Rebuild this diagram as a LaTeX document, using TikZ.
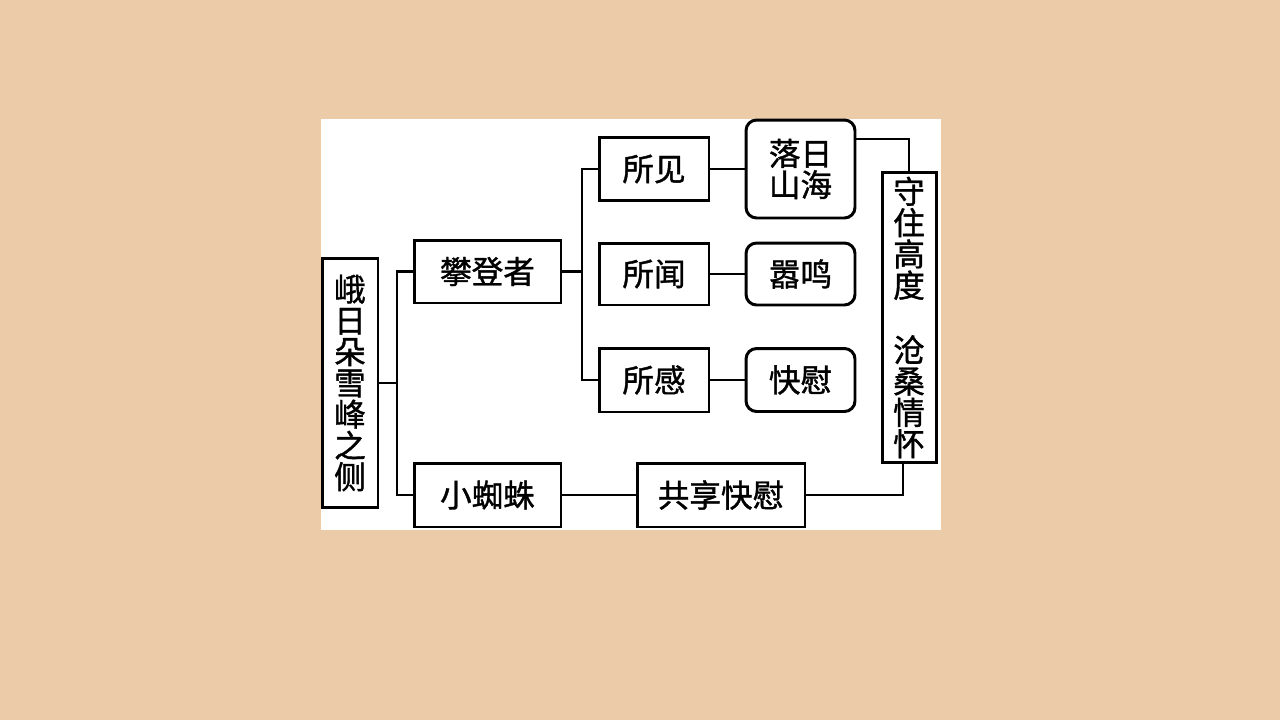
\documentclass[tikz,border=0pt]{standalone}
\usepackage{fontspec}
\newfontfamily\cjk[FakeBold=1.2]{Noto Sans CJK SC}
\usepackage{tikz}
\definecolor{paper}{RGB}{235,203,168}

\begin{document}
\begin{tikzpicture}[x=0.02cm, y=-0.02cm,
    box/.style={draw, line width=1.7pt, fill=white, inner sep=2pt, align=center,
        font=\cjk\fontsize{18pt}{17.8pt}\selectfont},
    rbox/.style={box, rounded corners=6pt},
    link/.style={line width=1.6pt}]
            \useasboundingbox (0,0) rectangle (1280,720);
            \fill[paper] (0,0) rectangle (1280,720);
            \fill[white] (321,119) rectangle (941,530);
            % left column
            \node[box, minimum width=1.12cm, minimum height=5cm] (side) at (350,383) {峨\\日\\朵\\雪\\峰\\之\\侧};
            \node[box, minimum width=2.94cm, minimum height=1.26cm] (climber) at (487.5,271.5) {攀登者};
            \node[box, minimum width=2.94cm, minimum height=1.28cm] (spider) at (487.5,495) {小蜘蛛};
            % what the climber meets
            \node[box, minimum width=2.2cm, minimum height=1.26cm] (see) at (654,169) {所见};
            \node[box, minimum width=2.2cm, minimum height=1.24cm] (hear) at (654,274) {所闻};
            \node[box, minimum width=2.2cm, minimum height=1.28cm] (feel) at (654,380) {所感};
            \node[rbox, minimum width=2.18cm, minimum height=1.96cm] (sunset) at (800.5,169) {落日\\山海};
            \node[rbox, minimum width=2.18cm, minimum height=1.24cm] (noise) at (800.5,274) {嚣鸣};
            \node[rbox, minimum width=2.18cm, minimum height=1.26cm] (joy) at (800.5,380) {快慰};
            \node[box, minimum width=3.36cm, minimum height=1.28cm] (share) at (721,495) {共享快慰};
            \node[box, minimum width=1.08cm, minimum height=5.82cm] (keep) at (909,317.5) {守\\住\\高\\度\\[19pt]沧\\桑\\情\\怀};
            % connectors
            \coordinate (lbus) at (397,383);
            \coordinate (rbus) at (582,271.5);
            \coordinate (top) at (909,139);
            \coordinate (bot) at (903,495);
            \draw[link] (side.east) -- (lbus);
            \draw[link] (climber.west) -| (lbus) |- (spider.west);
            \draw[link] (climber.east) -- (rbus);
            \draw[link] (see.west) -| (rbus) |- (feel.west);
            \draw[link] (see.east) -- (sunset.west);
            \draw[link] (hear.east) -- (noise.west);
            \draw[link] (feel.east) -- (joy.west);
            \draw[link] (sunset.east |- top) -- (top) -- (keep.north);
            \draw[link] (keep.south -| bot) -- (bot) -- (share.east);
            \draw[link] (spider.east) -- (share.west);
        \end{tikzpicture}
\end{document}
